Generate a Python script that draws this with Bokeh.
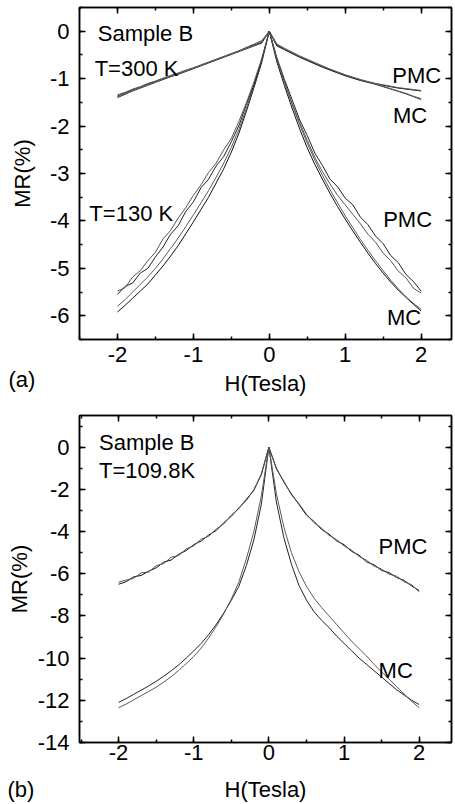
from bokeh.plotting import figure
from bokeh.layouts import column
from bokeh.models import (Range1d, LinearAxis, SingleIntervalTicker, Label, Title,
                          CustomLabelingPolicy, CustomJSTickFormatter)
from bokeh.embed import file_html
from bokeh.resources import INLINE

FONT = "Liberation Sans"
FS = "22px"

# ---------------- data ----------------
H = [-2.0, -1.9, -1.8, -1.7, -1.6, -1.5, -1.4, -1.3, -1.2, -1.1, -1.0,
     -0.9, -0.8, -0.7, -0.6, -0.5, -0.4, -0.3, -0.2, -0.1, 0.0,
     0.1, 0.2, 0.3, 0.4, 0.5, 0.6, 0.7, 0.8, 0.9, 1.0,
     1.1, 1.2, 1.3, 1.4, 1.5, 1.6, 1.7, 1.8, 1.9, 2.0]

# panel (a), T = 300 K
a300_pmc1 = [-1.37, -1.30, -1.24, -1.18, -1.12, -1.06, -1.00, -0.95, -0.89, -0.84, -0.78,
             -0.72, -0.66, -0.60, -0.54, -0.48, -0.42, -0.35, -0.29, -0.23, 0.0,
             -0.30, -0.38, -0.46, -0.54, -0.61, -0.68, -0.75, -0.81, -0.87, -0.93,
             -0.98, -1.03, -1.07, -1.11, -1.14, -1.17, -1.20, -1.22, -1.24, -1.26]
a300_pmc2 = [-1.34, -1.29, -1.22, -1.17, -1.10, -1.05, -0.99, -0.93, -0.88, -0.82, -0.77,
             -0.71, -0.65, -0.59, -0.53, -0.47, -0.41, -0.34, -0.27, -0.20, 0.0,
             -0.27, -0.36, -0.44, -0.52, -0.59, -0.66, -0.73, -0.80, -0.86, -0.92,
             -0.97, -1.02, -1.06, -1.10, -1.13, -1.16, -1.19, -1.21, -1.23, -1.25]
a300_mc1 = [-1.40, -1.33, -1.26, -1.20, -1.14, -1.08, -1.02, -0.96, -0.91, -0.85, -0.79,
            -0.73, -0.67, -0.61, -0.55, -0.49, -0.43, -0.37, -0.31, -0.25, 0.0,
            -0.31, -0.39, -0.47, -0.55, -0.62, -0.69, -0.76, -0.82, -0.88, -0.94,
            -0.99, -1.04, -1.08, -1.12, -1.17, -1.22, -1.27, -1.32, -1.38, -1.44]
a300_mc2 = [-1.38, -1.31, -1.25, -1.19, -1.13, -1.07, -1.01, -0.95, -0.90, -0.84, -0.78,
            -0.72, -0.66, -0.60, -0.54, -0.48, -0.42, -0.36, -0.30, -0.22, 0.0,
            -0.28, -0.37, -0.45, -0.53, -0.60, -0.67, -0.74, -0.80, -0.86, -0.92,
            -0.97, -1.02, -1.07, -1.11, -1.16, -1.21, -1.26, -1.31, -1.37, -1.42]

# panel (a), T = 130 K
a130_mc1 = [-5.92, -5.78, -5.63, -5.48, -5.33, -5.14, -4.95, -4.74, -4.52, -4.27, -4.02,
            -3.76, -3.50, -3.20, -2.90, -2.55, -2.15, -1.68, -1.18, -0.66, 0.0,
            -0.65, -1.15, -1.62, -2.06, -2.46, -2.81, -3.12, -3.42, -3.70, -3.96,
            -4.21, -4.45, -4.68, -4.90, -5.10, -5.29, -5.46, -5.61, -5.76, -5.90]
a130_mc2 = [-5.80, -5.66, -5.50, -5.34, -5.18, -5.00, -4.80, -4.58, -4.36, -4.12, -3.87,
            -3.62, -3.36, -3.08, -2.78, -2.45, -2.07, -1.62, -1.13, -0.62, 0.0,
            -0.60, -1.08, -1.54, -1.97, -2.36, -2.72, -3.04, -3.34, -3.62, -3.89,
            -4.14, -4.39, -4.62, -4.84, -5.05, -5.25, -5.43, -5.60, -5.74, -5.86]
a130_pmc1 = [-5.55, -5.38, -5.31, -5.10, -5.00, -4.76, -4.55, -4.28, -4.10, -3.80, -3.60,
             -3.30, -3.12, -2.84, -2.64, -2.33, -1.99, -1.54, -1.12, -0.60, 0.0,
             -0.56, -1.02, -1.44, -1.87, -2.20, -2.57, -2.83, -3.12, -3.28, -3.52,
             -3.66, -3.92, -4.08, -4.32, -4.48, -4.73, -4.88, -5.13, -5.28, -5.48]
a130_pmc2 = [-5.48, -5.41, -5.18, -5.05, -4.84, -4.66, -4.38, -4.20, -3.94, -3.72, -3.46,
             -3.24, -2.98, -2.78, -2.50, -2.26, -1.90, -1.50, -1.06, -0.58, 0.0,
             -0.58, -1.06, -1.52, -1.93, -2.30, -2.66, -2.96, -3.22, -3.46, -3.66,
             -3.86, -4.06, -4.28, -4.45, -4.68, -4.84, -5.06, -5.20, -5.42, -5.52]

# panel (b), T = 109.8 K
b_pmc1 = [-6.50, -6.38, -6.15, -6.08, -5.88, -5.72, -5.45, -5.35, -5.08, -4.90, -4.62,
          -4.45, -4.16, -3.95, -3.58, -3.28, -2.88, -2.52, -2.02, -1.30, 0.0,
          -1.00, -1.66, -2.22, -2.72, -3.22, -3.52, -3.90, -4.12, -4.44, -4.62,
          -4.94, -5.12, -5.44, -5.58, -5.84, -5.95, -6.18, -6.32, -6.58, -6.80]
b_pmc2 = [-6.40, -6.30, -6.22, -5.96, -5.92, -5.62, -5.52, -5.22, -5.14, -4.82, -4.68,
          -4.36, -4.22, -3.88, -3.64, -3.22, -2.92, -2.46, -2.06, -1.26, 0.0,
          -1.04, -1.62, -2.26, -2.68, -3.18, -3.58, -3.84, -4.18, -4.38, -4.68,
          -4.88, -5.18, -5.36, -5.64, -5.78, -6.02, -6.12, -6.38, -6.52, -6.86]
b_mc1 = [-12.10, -11.92, -11.72, -11.52, -11.32, -11.10, -10.86, -10.60, -10.32, -10.00, -9.66,
         -9.30, -8.88, -8.40, -7.86, -7.26, -6.60, -5.62, -4.40, -2.70, 0.0,
         -2.60, -4.30, -5.55, -6.55, -7.25, -7.80, -8.20, -8.55, -8.95, -9.30,
         -9.65, -10.00, -10.30, -10.60, -10.90, -11.20, -11.50, -11.75, -12.00, -12.20]
b_mc2 = [-12.35, -12.18, -11.98, -11.78, -11.58, -11.38, -11.14, -10.88, -10.58, -10.26, -9.92,
         -9.52, -9.04, -8.50, -7.90, -7.20, -6.40, -5.30, -4.00, -2.30, 0.0,
         -2.20, -3.80, -5.00, -5.90, -6.60, -7.15, -7.60, -8.00, -8.40, -8.80,
         -9.20, -9.55, -9.90, -10.30, -10.65, -11.00, -11.35, -11.70, -12.05, -12.35]

x_major = 1
a_y_major = 1
b_y_major = 2

HIDE = CustomLabelingPolicy(code="return []")
FMT = CustomJSTickFormatter(code="return tick.toFixed(0)")


def style_axis(ax, show_labels=True):
    ax.axis_line_width = 1.5
    ax.axis_line_color = "black"
    ax.major_tick_in = 6
    ax.major_tick_out = 0
    ax.minor_tick_in = 3
    ax.minor_tick_out = 0
    ax.major_tick_line_width = 1.5
    ax.minor_tick_line_width = 1.5
    ax.major_tick_line_color = "black"
    ax.minor_tick_line_color = "black"
    ax.major_label_text_font = FONT
    ax.major_label_text_color = "black"
    ax.axis_label_text_font = FONT
    ax.axis_label_text_font_style = "normal"
    ax.axis_label_text_font_size = FS
    ax.axis_label_text_color = "black"
    ax.formatter = FMT
    if show_labels:
        ax.major_label_text_font_size = FS
    else:
        ax.major_label_text_font_size = "1px"
        ax.major_label_policy = HIDE
        ax.major_label_standoff = 0
        ax.axis_label_standoff = 0


def make_panel(height, ylo, yhi, yint, xlo, xhi, mb_left, mb_top, mb_bottom,
               ylabel_standoff, xtick_standoff, xlabel_standoff):
    p = figure(width=455, height=height,
               x_range=Range1d(xlo, xhi), y_range=Range1d(ylo, yhi),
               output_backend="svg", toolbar_location=None,
               min_border_left=mb_left, min_border_right=0,
               min_border_top=mb_top, min_border_bottom=mb_bottom)
    p.xgrid.visible = False
    p.ygrid.visible = False
    p.outline_line_color = "black"
    p.outline_line_width = 1.5
    p.background_fill_color = "white"
    p.border_fill_color = "white"

    p.xaxis.ticker = SingleIntervalTicker(interval=x_major, num_minor_ticks=2)
    p.yaxis.ticker = SingleIntervalTicker(interval=yint, num_minor_ticks=2)
    style_axis(p.xaxis[0])
    style_axis(p.yaxis[0])
    p.xaxis.axis_label = "H(Tesla)"
    p.yaxis.axis_label = "MR(%)"
    p.xaxis.major_label_standoff = xtick_standoff
    p.xaxis.axis_label_standoff = xlabel_standoff
    p.yaxis.major_label_standoff = 10
    p.yaxis.axis_label_standoff = ylabel_standoff

    top = LinearAxis(ticker=SingleIntervalTicker(interval=x_major, num_minor_ticks=2))
    right = LinearAxis(ticker=SingleIntervalTicker(interval=yint, num_minor_ticks=2))
    style_axis(top, show_labels=False)
    style_axis(right, show_labels=False)
    p.add_layout(top, "above")
    p.add_layout(right, "right")
    return p


def add_text(p, x, y, s):
    p.add_layout(Label(x=x, y=y, text=s, text_font=FONT, text_font_size=FS,
                       text_baseline="middle", text_align="left",
                       text_color="black"))


def add_panel_tag(p, s, offset, standoff):
    p.add_layout(Title(text=s, align="left", vertical_align="top",
                       offset=offset, standoff=standoff,
                       text_font=FONT, text_font_size=FS,
                       text_font_style="normal", text_color="black"), "below")


# ---------------- panel (a) ----------------
pa = make_panel(404, -6.5, 0.5, a_y_major, -2.5, 2.40, 78, 7, 65, 12, 7, 6)
for ys, c in [(a300_pmc1, "#111111"), (a300_pmc2, "#555555"),
              (a300_mc1, "#222222"), (a300_mc2, "#666666"),
              (a130_mc1, "#111111"), (a130_mc2, "#5a5a5a"),
              (a130_pmc1, "#222222"), (a130_pmc2, "#555555")]:
    pa.line(H, ys, line_color=c, line_width=1)

add_text(pa, -2.26, -0.04, "Sample B")
add_text(pa, -2.30, -0.79, "T=300 K")
add_text(pa, -2.37, -3.85, "T=130 K")
add_text(pa, 1.62, -0.93, "PMC")
add_text(pa, 1.63, -1.77, "MC")
add_text(pa, 1.50, -3.98, "PMC")
add_text(pa, 1.55, -6.04, "MC")
add_panel_tag(pa, "(a)", -71, -63)

# ---------------- panel (b) ----------------
pb = make_panel(400, -14, 1.5, b_y_major, -2.52, 2.43, 79, 11, 60, 3, 2, 14)
for ys, c in [(b_pmc1, "#111111"), (b_pmc2, "#555555"),
              (b_mc1, "#222222"), (b_mc2, "#5a5a5a")]:
    pb.line(H, ys, line_color=c, line_width=1)

add_text(pb, -2.26, 0.21, "Sample B")
add_text(pb, -2.26, -1.10, "T=109.8K")
add_text(pb, 1.46, -4.70, "PMC")
add_text(pb, 1.46, -10.60, "MC")
add_panel_tag(pb, "(b)", -72, -55)

layout = column(pa, pb, spacing=0)
open("out.html", "w").write(file_html(layout, INLINE))
